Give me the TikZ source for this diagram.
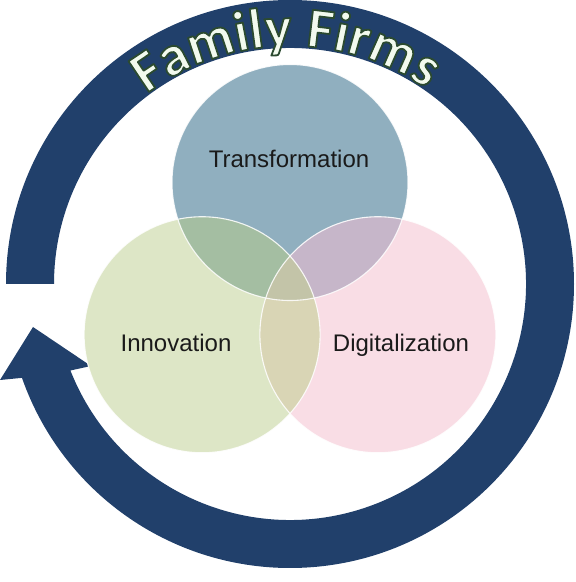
\documentclass[tikz,border=0pt]{standalone}
\usepackage{fontspec}
\setmainfont{Liberation Sans}
\newfontfamily\fffont{Carlito Bold}
\usetikzlibrary{decorations.text,calc}
\definecolor{ringblue}{HTML}{21406B}
\definecolor{topc}{HTML}{90AFBF}
\definecolor{leftc}{HTML}{DDE6C6}
\definecolor{rightc}{HTML}{F9DDE5}
\definecolor{tlc}{HTML}{A4BEA2}
\definecolor{trc}{HTML}{C6B6C9}
\definecolor{lrc}{HTML}{D9D5B5}
\definecolor{cc}{HTML}{C3C4A8}
\definecolor{labeltext}{HTML}{1A1A1A}
\definecolor{fflight}{HTML}{F2FAEE}
% outline of the title letters: fill + stroke render mode, dark green stroke
\newcommand\ffstroke{\special{pdf:code 2 Tr 1.8 w 1 j 0.17 0.29 0.19 RG}}
\newcommand\ffstyle{\fffont\fontsize{57}{60}\selectfont\ffstroke}
\tikzset{
  lbl/.style={font=\fontsize{24}{28}\selectfont, text=labeltext, anchor=base, inner sep=0pt},
  vennline/.style={draw=white, draw opacity=0.85, line width=1.1pt},
  ffpath/.style={decorate, decoration={text along path, text={|\ffstyle|Family Firms}, text align=fit to path, text color=#1}}
}
\begin{document}
\begin{tikzpicture}[x=1pt,y=1pt]
\useasboundingbox (0,0) rectangle (576,582);
\begin{scope}[shift={(290,298)}]
  \coordinate (C) at (0,0);
  \coordinate (T) at (90:101.5);
  \coordinate (L) at (210:101.5);
  \coordinate (R) at (-30:101.5);
  % ring arrow
  \coordinate (aout) at (-290,-96);
  \coordinate (ain) at (-199,-82);
  \coordinate (tip) at (-257,-43);
  \fill[ringblue] (180:284) arc[start angle=180, end angle=-160.7, radius=284]
     -- (aout) -- (tip) -- (ain) -- (-158.5:236)
     arc[start angle=-158.5, end angle=180, radius=236] -- cycle;
  % venn
  \fill[topc] (T) circle[radius=118];
  \fill[leftc] (L) circle[radius=118];
  \fill[rightc] (R) circle[radius=118];
  \begin{scope}
    \clip (T) circle[radius=118];
    \fill[tlc] (L) circle[radius=118];
    \fill[trc] (R) circle[radius=118];
  \end{scope}
  \begin{scope}
    \clip (L) circle[radius=118];
    \fill[lrc] (R) circle[radius=118];
  \end{scope}
  \begin{scope}
    \clip (T) circle[radius=118];
    \clip (L) circle[radius=118];
    \fill[cc] (R) circle[radius=118];
  \end{scope}
  \path[vennline] (T) circle[radius=118];
  \path[vennline] (L) circle[radius=118];
  \path[vennline] (R) circle[radius=118];
  % labels
  \node[lbl] (ltrans) at (-1,116) {Transformation};
  \node[lbl] (linno) at (-114,-68) {Innovation};
  \node[lbl] (ldigi) at (111,-68) {Digitalization};
  % Family Firms
  \path[ffpath=fflight] (127:238) arc[start angle=127, end angle=55, radius=238];
\end{scope}
\special{pdf:code 0 Tr}
\end{tikzpicture}
\end{document}
